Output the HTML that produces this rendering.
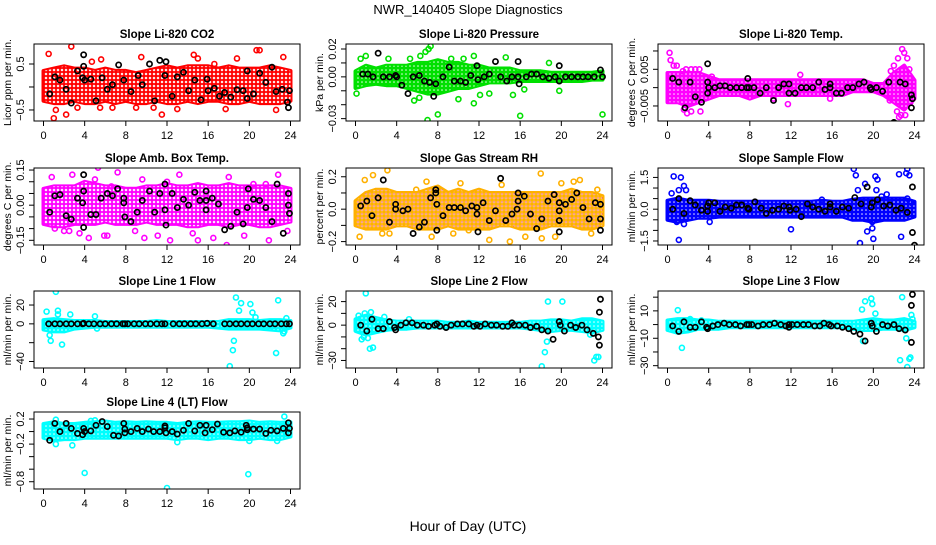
<!DOCTYPE html>
<html><head><meta charset="utf-8">
<style>
html,body{margin:0;padding:0;background:#fff;}
svg text{font-family:"Liberation Sans",Arial,sans-serif;fill:#000;}
</style></head>
<body>
<svg id="chart" width="936" height="540" viewBox="0 0 936 540" xmlns="http://www.w3.org/2000/svg">
<defs>
<pattern id="dots" width="4" height="4" patternUnits="userSpaceOnUse"><circle cx="2" cy="2" r="0.8" fill="#fff"/></pattern>
<pattern id="dotsBig" width="4" height="4" patternUnits="userSpaceOnUse"><circle cx="2" cy="2" r="1.25" fill="#fff"/></pattern>
</defs>
<text x="468" y="14" font-size="13" text-anchor="middle">NWR_140405  Slope Diagnostics</text>
<text x="468" y="531" font-size="14" text-anchor="middle">Hour of Day (UTC)</text>
<g id="panels"></g>
</svg>
<script>
// ---------- DATA ----------
const hours = [0,1,2,3,4,5,6,7,8,9,10,11,12,13,14,15,16,17,18,19,20,21,22,23,24];
const xTicks = [0,4,8,12,16,20,24];

const co2Hi = [0.35,0.4,0.45,0.4,0.4,0.35,0.4,0.35,0.35,0.3,0.35,0.4,0.45,0.4,0.45,0.45,0.45,0.4,0.45,0.4,0.4,0.4,0.45,0.4,0.35];
const co2Lo = [-0.3,-0.35,-0.35,-0.3,-0.35,-0.35,-0.3,-0.35,-0.3,-0.35,-0.35,-0.3,-0.35,-0.35,-0.3,-0.35,-0.3,-0.3,-0.35,-0.35,-0.3,-0.35,-0.35,-0.35,-0.3];
const co2Out = [[0.5,0.72],[2.7,0.88],[1.2,-0.5],[1.0,-0.68],[2.2,-0.6],[3.3,-0.45],[4.7,0.55],[5.6,0.6],[6.7,-0.45],[9.5,0.65],[10.7,-0.45],[11.5,-0.6],[13,-0.48],[14.6,0.7],[15,0.62],[17.7,-0.48],[18.8,0.62],[20.7,0.8],[22.6,-0.5],[23.3,0.65],[21,0.8],[9,-0.45],[5.5,-0.45],[16.6,0.5]];
const co2Black = [[0.6,-0.15],[1.1,0.22],[1.6,0.15],[2.2,-0.05],[2.7,-0.35],[3.3,0.35],[3.9,0.45],[3.9,0.7],[3.8,0.2],[4,0.15],[4.6,0.17],[5.1,-0.3],[5.7,0.2],[6.2,-0.05],[6.7,0.05],[7.3,0.48],[7.8,0.15],[8.5,-0.1],[9.2,0.25],[9.6,0.05],[10.3,0.5],[10.8,-0.3],[11.3,0.58],[11.8,0.25],[11.9,0.55],[12.5,-0.2],[13,0.22],[13.6,0.32],[14.1,-0.08],[14.7,0.15],[15.3,-0.28],[15.9,0.17],[16,-0.08],[16.6,-0.03],[17.1,-0.2],[17.6,-0.12],[18.2,-0.22],[18.8,-0.06],[19.4,-0.08],[19.8,-0.25],[19.8,0.35],[20.4,-0.15],[21,0.3],[21.6,0.1],[22.2,0.43],[22.6,-0.1],[23.2,-0.05],[23.7,-0.33],[23.8,-0.45],[23.9,-0.08]];

const presHi = [0.004,0.008,0.006,0.008,0.008,0.008,0.01,0.01,0.012,0.01,0.01,0.008,0.008,0.006,0.006,0.006,0.004,0.004,0.004,0.003,0.003,0.003,0.003,0.003,0.004];
const presLo = [-0.008,-0.006,-0.005,-0.006,-0.006,-0.008,-0.01,-0.012,-0.012,-0.01,-0.008,-0.008,-0.006,-0.004,-0.004,-0.004,-0.003,-0.003,-0.003,-0.003,-0.003,-0.003,-0.003,-0.002,-0.002];
const presOut = [[0.1,-0.012],[0.5,0.013],[1,0.015],[3.2,0.013],[5.3,0.013],[5.7,-0.017],[6.3,0.015],[6.8,0.018],[7.1,0.02],[7,-0.031],[8,-0.027],[7.3,0.022],[9.3,0.013],[10,-0.016],[10.5,0.013],[11.5,0.015],[11.5,-0.019],[12.1,-0.013],[14.6,0.014],[15.3,-0.013],[16,-0.028],[16.4,-0.009],[18.8,0.01],[19.8,-0.01],[24,-0.027],[13,-0.012],[6.2,-0.015]];
const presBlack = [[0.7,0.002],[1.2,0.002],[1.7,0],[2.2,0.017],[2.7,0],[3.3,0],[3.9,0.001],[4,0],[4.5,-0.006],[5.1,-0.012],[5.6,0],[6.2,0.001],[6.7,-0.003],[7.2,-0.004],[7.6,-0.014],[7.8,-0.005],[8.5,0],[9.1,0.007],[9.6,-0.003],[10.2,-0.003],[10.7,-0.004],[11.2,0.001],[11.9,-0.002],[11.8,0.008],[12.5,0],[13,0.002],[13.6,0.011],[14.1,0],[14.7,-0.003],[15.2,0],[15.8,0.011],[15.9,-0.005],[15.8,0],[16.6,0],[17.1,0.002],[17.6,0.002],[18.2,0],[18.8,-0.001],[19.4,0],[19.8,0.008],[19.8,-0.003],[20.4,0],[21,0],[21.6,0],[22.1,0],[22.6,0],[23.2,0],[23.8,0.005],[24,0]];

const tempHi = [0.004,0.004,0.004,0.004,0.003,0.002,0.002,0.002,0.002,0.002,0.002,0.002,0.002,0.002,0.002,0.002,0.002,0.002,0.002,0.002,0.001,0.001,0.004,0.006,0.002];
const tempLo = [-0.004,-0.004,-0.005,-0.004,-0.003,-0.002,-0.002,-0.002,-0.003,-0.002,-0.002,-0.002,-0.002,-0.002,-0.002,-0.002,-0.002,-0.002,-0.001,-0.001,-0.001,-0.002,-0.004,-0.006,-0.003];
const tempOut = [[0.2,0.0095],[0.3,0.0075],[0.6,0.006],[0.9,0.006],[1.5,0.0045],[1.8,0.005],[2.3,0.005],[2.7,0.005],[3.1,0.005],[1.9,-0.007],[2.3,-0.0065],[3.2,-0.0065],[1.6,-0.006],[4.3,0.003],[12.9,0.0035],[11.7,-0.0045],[10.3,-0.003],[15.8,-0.003],[21.7,0.0045],[22,0.006],[22.4,0.008],[22.8,0.0105],[23,0.0095],[23.3,0.008],[22.3,-0.0065],[22.7,-0.0075],[23.1,-0.0075],[23.6,-0.004],[22.5,-0.008],[21.6,-0.0035],[23.5,0.005]];
const tempBlack = [[0.5,0.0025],[1.1,0.0015],[1.7,-0.0055],[2.2,0.0015],[2.7,-0.0025],[3.3,-0.004],[3.9,0.0065],[3.9,0.0015],[4,0],[3.9,-0.0015],[4.6,0],[5.1,0.0005],[5.6,0.0005],[6.1,0],[6.7,0],[7.2,0],[7.7,0],[7.8,0.0025],[7.9,0],[8.4,0],[9.0,-0.0015],[9.6,0],[10.3,-0.0035],[10.8,0],[11.3,0.001],[11.8,0.001],[11.8,-0.0015],[12.4,-0.0015],[13,0],[13.5,0],[14.1,0],[14.7,0.0015],[15.3,-0.0005],[15.8,0],[15.8,0.001],[16.4,-0.0015],[16.9,-0.0015],[17.5,0],[18,0],[18.6,0.001],[19.1,0.0015],[19.7,0],[19.8,-0.0005],[20.3,0],[20.9,-0.001],[21.5,0.0015],[22,-0.0095],[22.6,0.0015],[23.1,0.001],[23.7,-0.002],[23.8,-0.003],[23.7,-0.0055]];

const ambHi = [0.07,0.08,0.08,0.08,0.1,0.09,0.08,0.08,0.07,0.07,0.08,0.08,0.09,0.08,0.08,0.09,0.08,0.08,0.09,0.08,0.08,0.08,0.08,0.08,0.07];
const ambLo = [-0.08,-0.09,-0.09,-0.08,-0.08,-0.08,-0.07,-0.08,-0.08,-0.08,-0.07,-0.08,-0.08,-0.08,-0.09,-0.09,-0.08,-0.08,-0.09,-0.08,-0.08,-0.09,-0.09,-0.08,-0.07];
const ambOut = [[0.8,0.12],[2.8,0.13],[1.1,-0.1],[2,-0.11],[2.5,-0.11],[3.5,-0.12],[4.4,-0.14],[5,0.11],[5.3,0.16],[5.9,-0.13],[6.2,-0.13],[7.2,0.14],[8.9,-0.11],[9.6,0.11],[9.8,-0.14],[11.1,-0.13],[12.3,-0.15],[13.2,0.13],[14.5,-0.12],[15,-0.15],[16.5,-0.14],[17.8,-0.17],[18,0.12],[19.5,-0.13],[20.4,0.09],[21.6,0.09],[21.9,-0.15],[22.8,0.13],[23.7,-0.11],[6.6,0.08],[12,0.1]];
const ambBlack = [[0.6,-0.03],[1.1,0.04],[1.6,0.045],[2.2,-0.045],[2.7,-0.06],[3.3,0.03],[3.9,0.13],[3.9,0.06],[3.8,0.01],[3.9,-0.095],[4.6,-0.04],[5.1,-0.04],[5.6,0.03],[6.2,0.05],[6.7,0.04],[7.2,0.07],[7.8,0.03],[7.9,-0.05],[7.8,0.01],[8.5,-0.07],[9.1,-0.03],[9.6,0.02],[10.3,0.06],[10.8,-0.03],[11.3,0.05],[11.8,0.09],[11.8,-0.02],[11.9,-0.085],[12.5,0.05],[13,-0.01],[13.6,0.025],[14.1,0],[14.7,0.055],[15.2,0.02],[15.8,0.02],[15.8,0.06],[15.8,-0.02],[16.4,0.03],[17,0.005],[17.6,-0.105],[18.2,-0.09],[18.8,-0.03],[19.4,-0.08],[19.8,-0.01],[19.9,0.07],[20.4,0.025],[21,0.02],[21.6,-0.01],[22.2,-0.07],[22.7,0.09],[23.3,-0.12],[23.8,0.05],[23.8,0],[23.9,-0.035]];

const rhHi = [0.05,0.1,0.12,0.12,0.1,0.1,0.1,0.12,0.14,0.1,0.12,0.1,0.12,0.1,0.1,0.1,0.1,0.1,0.1,0.1,0.1,0.12,0.1,0.1,0.08];
const rhLo = [-0.1,-0.12,-0.12,-0.12,-0.1,-0.1,-0.12,-0.12,-0.12,-0.1,-0.12,-0.12,-0.12,-0.12,-0.1,-0.1,-0.12,-0.12,-0.12,-0.1,-0.1,-0.1,-0.12,-0.12,-0.1];
const rhOut = [[0.4,-0.17],[0.9,0.18],[1.7,0.21],[3.1,0.24],[2.6,-0.15],[3.3,-0.15],[6.9,0.17],[7.4,-0.17],[9.5,-0.15],[11,-0.13],[13,-0.19],[15,-0.2],[14.2,0.15],[18,0.22],[18.1,-0.18],[19.4,-0.17],[20,0.16],[21.2,0.17],[21.8,0.18],[22.9,-0.15],[23.5,0.12],[16.5,-0.17],[5.9,0.12],[10.2,0.16]];
const rhBlack = [[0.5,0.02],[1.1,0.05],[1.6,-0.04],[2.2,0.07],[2.7,0.18],[3.3,-0.08],[3.9,0.03],[3.9,0],[4.6,-0.01],[5.1,0],[5.6,-0.15],[6.2,-0.11],[6.7,-0.08],[7.3,0.07],[7.8,0.12],[7.8,0.1],[7.9,0.03],[7.9,-0.13],[8.5,-0.04],[9.1,0.01],[9.6,0.01],[10.2,0.01],[10.7,-0.01],[11.3,0.02],[11.8,-0.03],[11.8,0.01],[11.9,-0.14],[12.4,0.04],[13,-0.07],[13.6,-0.01],[14.1,0.19],[14.6,-0.07],[15.2,-0.03],[15.7,0],[15.8,0.1],[15.8,0.05],[16.4,0.08],[17,-0.03],[17.6,-0.12],[18.1,-0.06],[18.7,0.05],[19.3,0.09],[19.8,-0.07],[19.8,0.04],[19.8,-0.01],[19.8,-0.14],[20.4,0.03],[21,0.06],[21.5,0.1],[22.1,0.01],[22.7,-0.06],[23.3,0.04],[23.8,0.03],[23.8,-0.06],[23.8,-0.13]];

const sfHi = [0.4,0.5,0.4,0.4,0.4,0.35,0.35,0.35,0.35,0.35,0.35,0.35,0.35,0.35,0.35,0.4,0.35,0.35,0.45,0.5,0.5,0.5,0.5,0.5,0.35];
const sfLo = [-0.5,-0.6,-0.5,-0.4,-0.4,-0.35,-0.35,-0.35,-0.35,-0.35,-0.35,-0.35,-0.35,-0.35,-0.35,-0.35,-0.35,-0.35,-0.5,-0.5,-0.6,-0.5,-0.5,-0.5,-0.35];
const sfOut = [[0.4,0.75],[0.6,1.55],[1.1,0.9],[1.3,1.5],[1.6,1.1],[1.8,0.9],[1.1,-1.45],[0.9,-0.6],[1.6,-0.7],[4.1,-0.6],[12,-0.95],[18.1,1.9],[18.3,1.6],[18.5,0.9],[18.7,-1.6],[19.2,1.2],[19.4,-1.05],[19.9,-0.9],[20,-1.4],[20.2,1.55],[20.4,1.4],[21.3,0.7],[22.5,1.65],[22.7,-1.3],[23.2,1.7],[23.3,1.9],[23.5,1.6],[23.3,0.5],[23.7,0.3],[20.3,0.9],[19.9,-0.6],[15,0.45],[20.8,0.6]];
const sfBlack = [[0.5,0],[1.1,0.5],[1.6,-0.2],[2.2,0.4],[2.7,0.2],[3.3,-0.05],[3.9,0.15],[3.9,-0.1],[4,0.3],[4.6,0.3],[5.1,-0.1],[5.6,0.1],[6.2,0.05],[6.7,0.2],[7.2,0.2],[7.8,0.05],[7.9,0],[8.5,0.35],[9.1,0.05],[9.6,-0.2],[10.2,-0.05],[10.8,0],[11.3,0.15],[11.8,0.1],[11.9,-0.05],[12.5,0],[13,-0.35],[13.6,0.25],[14.1,0.1],[14.7,0],[15.3,-0.1],[15.8,0.25],[15.8,0.1],[16.4,-0.1],[17,0.1],[17.6,0.05],[18.2,0.55],[18.8,0.25],[19.4,1.05],[19.8,0.1],[19.9,0.3],[20.4,0.45],[21,0.15],[21.6,0.2],[22.2,-0.05],[22.7,0.05],[23.3,-0.15],[23.8,1.05],[23.8,-1.1],[24,-1.7]];

const l1Hi = [4,5,4,3,3,3,2,2,2,2,2,3,2,2,2,2,2,2,4,4,4,3,4,4,3];
const l1Lo = [-6,-8,-8,-5,-4,-3,-3,-3,-3,-3,-3,-3,-3,-3,-3,-3,-3,-4,-5,-5,-5,-5,-6,-7,-4];
const l1Out = [[0.3,13],[0.6,-12],[0.7,-18],[1.2,34],[1.4,14],[1.4,10],[1.8,-22],[2.6,10],[5,8],[5.2,-5],[18.5,-18],[18.4,-28],[18.7,28],[19.2,22],[19,14],[18.1,-45],[20.1,21],[20.3,12],[20.6,7],[22.6,-31],[22.8,25],[23.3,-10],[23.6,6],[23.4,-8]];
const l1Black = [[0.5,0],[1.1,0],[1.6,0],[2.2,0],[2.7,0],[3.3,0],[3.8,0],[3.9,0.5],[4.4,0],[4.9,0],[5.5,0],[6,0],[6.6,0],[7.1,0],[7.7,0],[7.9,0],[8.2,0],[8.8,0],[9.3,0],[9.9,0],[10.4,0],[11,0],[11.5,0],[11.8,0],[12.6,0],[13.2,0],[13.7,0],[14.3,0],[14.8,0],[15.4,0],[15.9,0.5],[16.5,0],[17.6,0],[18.1,0],[18.7,0],[19.2,0],[19.8,0],[20.3,0],[20.9,0],[21.4,0],[22,0],[22.5,0],[23.1,0],[23.6,0],[23.9,0]];

const l2Hi = [5,8,6,4,3,3,3,3,3,2,2,3,2,2,2,2,2,3,3,4,4,3,5,5,3];
const l2Lo = [-5,-8,-6,-4,-3,-3,-2,-2,-2,-2,-2,-2,-2,-2,-2,-2,-2,-3,-4,-5,-4,-4,-5,-6,-4];
const l2Out = [[0.3,8],[0.6,-12],[0.8,-10],[1,27],[1.2,-11],[1.4,-20],[1.7,-19],[1.5,11],[2.8,7],[18.1,-35],[18.4,-23],[18.6,-14],[18.7,20],[20.1,20],[23.2,-30],[23.4,-27],[23.6,-27],[22.8,-8],[0.9,10],[5.2,5]];
const l2Black = [[0.5,0],[1.1,-5],[1.6,5],[2.2,-3],[2.7,-3],[3.3,3],[3.8,-2],[3.9,-4],[4.4,0],[4.9,2],[5.5,2],[6,0],[6.6,0],[7.1,-1],[7.7,0],[7.9,1],[8.2,-1],[8.8,-2],[9.3,0],[9.9,1],[10.4,1],[11,1],[11.5,-1],[11.8,0],[12.1,-1],[12.6,1],[13.2,0],[13.7,0],[14.3,-1],[14.8,-1],[15.2,2],[15.4,0],[15.9,0],[16.5,0],[17,-2],[17.6,-1],[18.1,-4],[18.7,-5],[19.2,-12],[19.8,3],[19.9,0],[20.3,-5],[20.9,0],[21.4,-2],[22,0],[22.5,-4],[23.1,-7],[23.6,-10],[23.7,-17],[23.7,11],[23.8,22]];

const l3Hi = [3,4,4,3,3,2,2,2,2,2,2,2,2,2,2,2,2,2,2,3,4,3,3,4,2];
const l3Lo = [-4,-6,-5,-3,-3,-3,-2,-2,-2,-2,-2,-2,-2,-2,-2,-2,-2,-2,-3,-4,-4,-3,-3,-4,-2];
const l3Out = [[1,10.5],[1.4,-17],[2.2,4],[18.9,11],[19.2,17],[19.8,19],[19.9,15],[20.2,8],[19,-12],[22.6,-26],[22.8,20],[23.2,-10],[23.3,-31],[23.5,-25],[23.6,-24],[23.7,7],[23.8,4],[0.5,-3],[3.3,3]];
const l3Black = [[0.5,-1],[1.1,-5],[1.6,2],[2.2,-2],[2.7,-2],[3.3,2],[3.8,-2],[3.9,-3],[4.4,-1],[4.9,0],[5.5,1],[6,0],[6.6,0],[7.1,-1],[7.7,0],[7.9,0],[8.2,0],[8.8,-1],[9.3,0],[9.9,0],[10.4,1],[11,0],[11.5,-1],[11.8,0],[11.8,-2],[12.1,0],[12.6,0],[13.2,0],[13.7,0],[14.3,-1],[14.8,-1],[15.2,1],[15.7,0],[15.9,-1],[16.5,-1],[17,-2],[17.6,-3],[18.1,-5],[18.7,-7],[19.2,-12],[19.8,1],[19.9,-1],[20.3,-5],[20.9,0],[21.4,-1],[22,0],[22.5,-3],[23.1,-4],[23.7,-13],[23.7,14],[23.8,22]];

const l4Hi = [0.12,0.15,0.12,0.12,0.14,0.15,0.16,0.14,0.15,0.14,0.15,0.14,0.14,0.12,0.14,0.15,0.14,0.14,0.15,0.15,0.16,0.14,0.15,0.14,0.15];
const l4Lo = [-0.1,-0.14,-0.12,-0.12,-0.1,-0.1,-0.1,-0.1,-0.1,-0.1,-0.1,-0.1,-0.1,-0.12,-0.1,-0.1,-0.12,-0.1,-0.1,-0.12,-0.12,-0.1,-0.12,-0.12,-0.08];
const l4Out = [[1.2,0.19],[1.2,-0.2],[2.8,-0.22],[4,-0.66],[19.9,-0.68],[12,-0.9],[23.4,0.24],[13,-0.17],[20,-0.15],[22.7,-0.15],[4.6,0.17],[5,0.18]];
const l4Black = [[0.6,-0.14],[1.1,0.13],[1.6,0],[2.2,0.13],[2.7,0.05],[3.3,-0.03],[3.8,-0.05],[3.9,0.05],[4,0],[4.6,0.01],[5.1,0.1],[5.7,0.16],[6.2,0.08],[6.8,-0.06],[7.3,-0.07],[7.8,0.13],[7.9,0.04],[7.9,-0.02],[8.5,0],[9.1,0.05],[9.6,0],[10.2,0.04],[10.7,0],[11.3,0],[11.8,0.09],[11.8,0.06],[11.9,-0.02],[12.5,0],[13,-0.04],[13.6,0.02],[14.1,0.13],[14.7,0.01],[15.2,0.1],[15.7,-0.02],[15.8,0.1],[16.4,0.03],[16.9,0.12],[17.5,-0.01],[18.1,-0.02],[18.6,0.01],[19.2,-0.01],[19.7,0.1],[19.8,0.03],[19.8,0.06],[20.4,0.04],[21,0.04],[21.6,-0.03],[22.1,0.02],[22.7,0.01],[23.3,0.05],[23.8,0.14],[23.8,-0.02],[23.9,0.05]];

// ---------- PANEL CONFIG ----------
const panels = [
 {id:'co2',title:'Slope Li-820 CO2',ylab:'Licor ppm per min.',col:0,row:0,ymin:-0.74,ymax:0.935,ticks:[-0.5,0,0.5],labels:{'-0.5':'\u22120.5','0.5':'0.5'},color:'#ff0000',tex:'dotsBig',hi:co2Hi,lo:co2Lo,out:co2Out,blk:co2Black},
 {id:'pressure',title:'Slope Li-820 Pressure',ylab:'kPa per min.',col:1,row:0,ymin:-0.0317,ymax:0.0236,ticks:[-0.03,-0.02,-0.01,0,0.01,0.02],labels:{'-0.03':'\u22120.03','0':'0.00','0.02':'0.02'},color:'#00e000',tex:'dots',hi:presHi,lo:presLo,out:presOut,blk:presBlack},
 {id:'temp',title:'Slope Li-820 Temp.',ylab:'degrees C per min.',col:2,row:0,ymin:-0.0091,ymax:0.0119,ticks:[-0.005,0,0.005,0.01],labels:{'-0.005':'\u22120.005','0.005':'0.005'},color:'#ff00ff',tex:'dots',hi:tempHi,lo:tempLo,out:tempOut,blk:tempBlack},
 {id:'amb-box',title:'Slope Amb. Box Temp.',ylab:'degrees C per min.',col:0,row:1,ymin:-0.17,ymax:0.1587,ticks:[-0.15,-0.1,-0.05,0,0.05,0.1,0.15],labels:{'-0.15':'\u22120.15','0':'0.00','0.15':'0.15'},color:'#ff00ff',tex:'dotsBig',hi:ambHi,lo:ambLo,out:ambOut,blk:ambBlack},
 {id:'rh',title:'Slope Gas Stream RH',ylab:'percent per min.',col:1,row:1,ymin:-0.221,ymax:0.254,ticks:[-0.2,-0.1,0,0.1,0.2],labels:{'-0.2':'\u22120.2','0':'0.0','0.2':'0.2'},color:'#ffb000',dot:'#ee2000',tex:'dotsBig',hi:rhHi,lo:rhLo,out:rhOut,blk:rhBlack},
 {id:'sample-flow',title:'Slope Sample Flow',ylab:'ml/min per min.',col:2,row:1,ymin:-1.69,ymax:1.945,ticks:[-1.5,-1,-0.5,0,0.5,1,1.5],labels:{'-1.5':'\u22121.5','0':'0.0','1.5':'1.5'},color:'#0000ff',tex:'dots',hi:sfHi,lo:sfLo,out:sfOut,blk:sfBlack},
 {id:'line1',title:'Slope Line 1 Flow',ylab:'ml/min per min.',col:0,row:2,ymin:-46.9,ymax:34.9,ticks:[-40,-20,0,20],labels:{'-40':'\u221240','0':'0','20':'20'},color:'#00ffff',tex:'dots',hi:l1Hi,lo:l1Lo,out:l1Out,blk:l1Black},
 {id:'line2',title:'Slope Line 2 Flow',ylab:'ml/min per min.',col:1,row:2,ymin:-36.4,ymax:29,ticks:[-30,-20,-10,0,10,20],labels:{'-30':'\u221230','0':'0','20':'20'},color:'#00ffff',tex:'dots',hi:l2Hi,lo:l2Lo,out:l2Out,blk:l2Black},
 {id:'line3',title:'Slope Line 3 Flow',ylab:'ml/min per min.',col:2,row:2,ymin:-31.7,ymax:24.5,ticks:[-30,-20,-10,0,10,20],labels:{'-30':'\u221230','-10':'\u221210','10':'10'},color:'#00ffff',tex:'dots',hi:l3Hi,lo:l3Lo,out:l3Out,blk:l3Black},
 {id:'line4',title:'Slope Line 4 (LT) Flow',ylab:'ml/min per min.',col:0,row:3,ymin:-0.916,ymax:0.312,ticks:[-0.8,-0.6,-0.4,-0.2,0,0.2],labels:{'-0.8':'\u22120.8','-0.2':'\u22120.2','0.2':'0.2'},color:'#00ffff',tex:'dots',hi:l4Hi,lo:l4Lo,out:l4Out,blk:l4Black}
];

const NS='http://www.w3.org/2000/svg';
function mk(tag,attrs,parent){const e=document.createElementNS(NS,tag);for(const k in attrs)e.setAttribute(k,attrs[k]);parent.appendChild(e);return e;}
const root=document.getElementById('panels');
const colL=[34,346,658], rowT=[44,168,291,412], BW=266, BH=77;

panels.forEach(p=>{
  const L=colL[p.col], T=rowT[p.row], R=L+BW, B=T+BH;
  const xs=h=>L+9.5+h/24*247;
  const ys=v=>B-(v-p.ymin)/(p.ymax-p.ymin)*BH;
  const g=mk('g',{},root);
  
  
  const t=mk('text',{x:L+BW/2,y:T-6,'font-size':11.5,'font-weight':'bold','text-anchor':'middle'},g);
  t.textContent=p.title;
  
  
  const clip='clip-'+p.id;
  const cp=mk('clipPath',{id:clip},g); mk('rect',{x:L,y:T,width:BW,height:BH},cp);
  const pg=mk('g',{'clip-path':'url(#'+clip+')'},g);
  let pts=[];
  hours.forEach((h,i)=>pts.push(xs(h).toFixed(1)+','+ys(p.hi[i]).toFixed(1)));
  for(let i=hours.length-1;i>=0;i--)pts.push(xs(hours[i]).toFixed(1)+','+ys(p.lo[i]).toFixed(1));
  const band=mk('polygon',{points:pts.join(' '),fill:p.color,stroke:p.color,'stroke-width':4,'stroke-linejoin':'round'},pg);
  
  
  const pat=mk('polygon',{points:pts.join(' '),fill:'url(#'+p.tex+')',opacity:0.9},pg);
  
  
  if(p.dot){ const pid='pd-'+p.id; const pt=mk('pattern',{id:pid,width:4,height:4,patternUnits:'userSpaceOnUse'},g); mk('circle',{cx:2,cy:2,r:0.7,fill:p.dot},pt); mk('polygon',{points:pts.join(' '),fill:'url(#'+pid+')'},pg); }
  p.out.forEach(d=>{
    const c=mk('circle',{cx:xs(d[0]),cy:ys(d[1]),r:2.5,fill:'none',stroke:p.color,'stroke-width':1.6},pg);
    
    
  });
  p.blk.forEach(d=>{
    const c=mk('circle',{cx:xs(d[0]),cy:ys(d[1]),r:2.6,fill:'none',stroke:'#000','stroke-width':1.7},pg);
    
    
  });
  const box=mk('rect',{x:L,y:T,width:BW,height:BH,fill:'none',stroke:'#000','stroke-width':1},g);
  
  
  mk('line',{x1:xs(0),x2:xs(24),y1:B,y2:B,stroke:'#000'},g);
  xTicks.forEach(h=>{
    mk('line',{x1:xs(h),x2:xs(h),y1:B,y2:B+5,stroke:'#000'},g);
    const tl=mk('text',{x:xs(h),y:B+18,'font-size':11,'text-anchor':'middle'},g);
    tl.textContent=h;
    
    
  });
  const tk=p.ticks.filter(v=>v>=p.ymin&&v<=p.ymax);
  mk('line',{x1:L,x2:L,y1:ys(tk[0]),y2:ys(tk[tk.length-1]),stroke:'#000'},g);
  tk.forEach(v=>{
    mk('line',{x1:L-5,x2:L,y1:ys(v),y2:ys(v),stroke:'#000'},g);
    const lab=p.labels[String(v)];
    if(lab!==undefined){
      const tl=mk('text',{x:L-10,y:ys(v),'font-size':11,'text-anchor':'middle',transform:'rotate(-90 '+(L-10)+' '+ys(v)+')'},g);
      tl.textContent=lab;
      
      
    }
  });
  const yl=mk('text',{x:L-23,y:T+BH/2,'font-size':10.5,'text-anchor':'middle',transform:'rotate(-90 '+(L-23)+' '+(T+BH/2)+')'},g);
  yl.textContent=p.ylab;
  
  
});
</script>
</body></html>
